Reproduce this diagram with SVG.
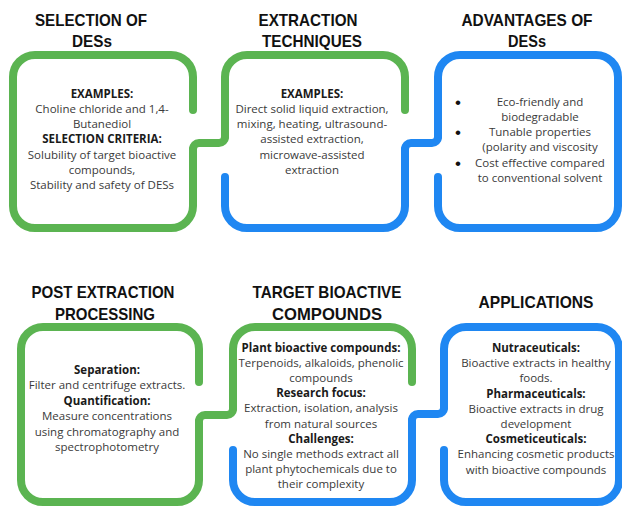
<svg xmlns="http://www.w3.org/2000/svg" width="622" height="508" viewBox="0 0 622 508">
<style>
.ln{fill:none;stroke-width:8;stroke-linecap:round;stroke-linejoin:round}
.g{stroke:#5BB451}
.b{stroke:#1F87F2}
.t{font-family:"Liberation Sans",Arial,sans-serif;font-weight:bold;font-size:17px;fill:#111;text-anchor:middle}
.x{font-family:"Open Sans","Liberation Sans",sans-serif;font-size:11.5px;fill:#3a3a3a;text-anchor:middle}
.h{font-weight:bold;fill:#1a1a1a}
.bu{font-family:"Liberation Sans",sans-serif;font-size:17px;fill:#111;text-anchor:middle}
</style>
<rect width="622" height="508" fill="#fff"/>
<g id="connectors">
<path class="ln g" d="M193,149 A6,6 0 0 1 199,143 H219 A6,6 0 0 0 225,137"/>
<path class="ln b" d="M405,149 A6,6 0 0 1 411,143 H432 A6,6 0 0 0 438,137"/>
<path class="ln g" d="M199,421 A6,6 0 0 1 205,415 H227 A6,6 0 0 0 233,409"/>
<path class="ln b" d="M412,420 A6,6 0 0 1 418,414 H438 A6,6 0 0 0 444,408"/>
</g>
<g id="selection">
<path class="ln g" d="M193,110 V77 A22,22 0 0 0 171,55 H35 A22,22 0 0 0 13,77 V206 A22,22 0 0 0 35,228 H171 A22,22 0 0 0 193,206 V149"/>
<text class="t" x="91" y="26" textLength="112" lengthAdjust="spacingAndGlyphs">SELECTION OF</text>
<text class="t" x="92" y="47" textLength="40" lengthAdjust="spacingAndGlyphs">DESs</text>
<text class="x h" x="102" y="97.5">EXAMPLES:</text>
<text class="x" x="102" y="112.8">Choline chloride and 1,4-</text>
<text class="x" x="102" y="128.1">Butanediol</text>
<text class="x h" x="102" y="143.4">SELECTION CRITERIA:</text>
<text class="x" x="102" y="158.7">Solubility of target bioactive</text>
<text class="x" x="102" y="174">compounds,</text>
<text class="x" x="102" y="189.3">Stability and safety of DESs</text>
</g>
<g id="extraction">
<path class="ln g" d="M225,137 V77 A22,22 0 0 1 247,55 H383 A22,22 0 0 1 405,77 V110"/>
<path class="ln b" d="M225,177 V206 A22,22 0 0 0 247,228 H383 A22,22 0 0 0 405,206 V149"/>
<text class="t" x="308" y="26" textLength="99" lengthAdjust="spacingAndGlyphs">EXTRACTION</text>
<text class="t" x="312" y="47" textLength="100" lengthAdjust="spacingAndGlyphs">TECHNIQUES</text>
<text class="x h" x="312" y="97.5">EXAMPLES:</text>
<text class="x" x="312" y="112.8">Direct solid liquid extraction,</text>
<text class="x" x="312" y="128.1">mixing, heating, ultrasound-</text>
<text class="x" x="312" y="143.4">assisted extraction,</text>
<text class="x" x="312" y="158.7">microwave-assisted</text>
<text class="x" x="312" y="174">extraction</text>
</g>
<g id="advantages">
<path class="ln b" d="M438,137 V77 A22,22 0 0 1 460,55 H596 A22,22 0 0 1 618,77 V206 A22,22 0 0 1 596,228 H460 A22,22 0 0 1 438,206 V177"/>
<text class="t" x="527" y="26" textLength="131" lengthAdjust="spacingAndGlyphs">ADVANTAGES OF</text>
<text class="t" x="527" y="47" textLength="38" lengthAdjust="spacingAndGlyphs">DESs</text>
<text class="bu" x="458" y="107.5">•</text>
<text class="bu" x="458" y="138">•</text>
<text class="bu" x="458" y="168.5">•</text>
<text class="x" x="540" y="105.5">Eco-friendly and</text>
<text class="x" x="540" y="120.8">biodegradable</text>
<text class="x" x="540" y="136.1">Tunable properties</text>
<text class="x" x="540" y="151.4">(polarity and viscosity</text>
<text class="x" x="540" y="166.7">Cost effective compared</text>
<text class="x" x="540" y="182">to conventional solvent</text>
</g>
<g id="post-extraction">
<path class="ln g" d="M199,382 V349 A22,22 0 0 0 177,327 H43 A22,22 0 0 0 21,349 V480 A22,22 0 0 0 43,502 H177 A22,22 0 0 0 199,480 V421"/>
<text class="t" x="103" y="298" textLength="143" lengthAdjust="spacingAndGlyphs">POST EXTRACTION</text>
<text class="t" x="105" y="320" textLength="100" lengthAdjust="spacingAndGlyphs">PROCESSING</text>
<text class="x h" x="107" y="374">Separation:</text>
<text class="x" x="107" y="389.4">Filter and centrifuge extracts.</text>
<text class="x h" x="107" y="404.8">Quantification:</text>
<text class="x" x="107" y="420.2">Measure concentrations</text>
<text class="x" x="107" y="435.6">using chromatography and</text>
<text class="x" x="107" y="451">spectrophotometry</text>
</g>
<g id="target">
<path class="ln g" d="M233,409 V349 A22,22 0 0 1 255,327 H390 A22,22 0 0 1 412,349 V382"/>
<path class="ln b" d="M233,450 V480 A22,22 0 0 0 255,502 H390 A22,22 0 0 0 412,480 V420"/>
<text class="t" x="327" y="298" textLength="149" lengthAdjust="spacingAndGlyphs">TARGET BIOACTIVE</text>
<text class="t" x="327" y="320" textLength="110" lengthAdjust="spacingAndGlyphs">COMPOUNDS</text>
<text class="x h" x="321" y="352">Plant bioactive compounds:</text>
<text class="x" x="321" y="367.1">Terpenoids, alkaloids, phenolic</text>
<text class="x" x="321" y="382.2">compounds</text>
<text class="x h" x="321" y="397.3">Research focus:</text>
<text class="x" x="321" y="412.4">Extraction, isolation, analysis</text>
<text class="x" x="321" y="427.5">from natural sources</text>
<text class="x h" x="321" y="442.6">Challenges:</text>
<text class="x" x="321" y="457.7">No single methods extract all</text>
<text class="x" x="321" y="472.8">plant phytochemicals due to</text>
<text class="x" x="321" y="487.9">their complexity</text>
</g>
<g id="applications">
<path class="ln b" d="M444,408 V349 A22,22 0 0 1 466,327 H597 A22,22 0 0 1 619,349 V480 A22,22 0 0 1 597,502 H466 A22,22 0 0 1 444,480 V450"/>
<text class="t" x="536" y="308" textLength="115" lengthAdjust="spacingAndGlyphs">APPLICATIONS</text>
<text class="x h" x="536" y="352">Nutraceuticals:</text>
<text class="x" x="536" y="367.2">Bioactive extracts in healthy</text>
<text class="x" x="536" y="382.4">foods.</text>
<text class="x h" x="536" y="397.6">Pharmaceuticals:</text>
<text class="x" x="536" y="412.8">Bioactive extracts in drug</text>
<text class="x" x="536" y="428">development</text>
<text class="x h" x="536" y="443.2">Cosmeticeuticals:</text>
<text class="x" x="536" y="458.4">Enhancing cosmetic products</text>
<text class="x" x="536" y="473.6">with bioactive compounds</text>
</g>
</svg>
